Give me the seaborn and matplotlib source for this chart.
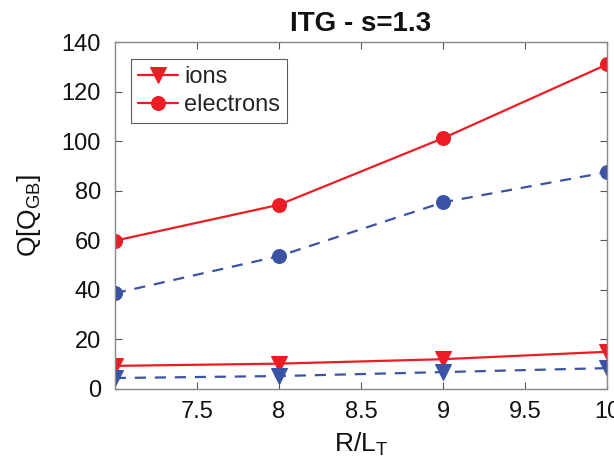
import matplotlib
matplotlib.use("Agg")
import matplotlib.pyplot as plt
import seaborn as sns
import pandas as pd

sns.set_theme(style="white")
plt.rcParams['font.family'] = ['Liberation Sans', 'DejaVu Sans']
plt.rcParams['mathtext.fontset'] = 'custom'
plt.rcParams['mathtext.rm'] = 'Liberation Sans'
plt.rcParams['mathtext.it'] = 'Liberation Sans'

r_lt = [7, 8, 9, 10]
ions_red = [9.3, 10.2, 12.0, 15.0]
electrons_red = [59.8, 74.3, 101.2, 131.0]
ions_blue = [4.4, 5.2, 6.8, 8.4]
electrons_blue = [38.6, 53.6, 75.3, 87.5]

RED = "#ED1C24"
BLUE = "#3A53A4"

fig = plt.figure(figsize=(6.14, 4.72), dpi=100)
ax = fig.add_axes([0.187, 0.176, 0.802, 0.735])

sns.lineplot(x=r_lt, y=ions_red, ax=ax, color=RED, marker="v", markersize=11,
             markeredgecolor=RED, linewidth=1.6, label="ions")
sns.lineplot(x=r_lt, y=electrons_red, ax=ax, color=RED, marker="o", markersize=10,
             markeredgecolor=RED, linewidth=1.6, label="electrons")
sns.lineplot(x=r_lt, y=ions_blue, ax=ax, color=BLUE, marker="v", markersize=11,
             markeredgecolor=BLUE, linewidth=1.6, linestyle=(0, (5, 4)))
sns.lineplot(x=r_lt, y=electrons_blue, ax=ax, color=BLUE, marker="o", markersize=10,
             markeredgecolor=BLUE, linewidth=1.6, linestyle=(0, (5, 4)))

ax.set_xlim(7, 10)
ax.set_ylim(0, 140)
ax.set_xticks([7.5, 8, 8.5, 9, 9.5, 10])
ax.set_xticklabels(["7.5", "8", "8.5", "9", "9.5", "10"])
ax.set_yticks([0, 20, 40, 60, 80, 100, 120, 140])
ax.tick_params(direction="in", length=5, width=0.8, color="#555555",
               labelsize=17, labelcolor="#111111", top=True, right=True,
               bottom=True, left=True)
ax.tick_params(axis="y", pad=10)
ax.tick_params(axis="x", pad=9)
for s in ax.spines.values():
    s.set_visible(True)
    s.set_color("#888888")
    s.set_linewidth(1.0)

ax.set_xlabel("R/L$_\\mathregular{T}$", fontsize=19, color="#111111", labelpad=5)
ax.set_ylabel("Q[Q$_\\mathregular{GB}$]", fontsize=19, color="#111111", labelpad=13)
ax.set_title("ITG - s=1.3", fontsize=20, fontweight="bold", color="#111111", pad=8)

leg = ax.legend(loc="upper left", fontsize=17, frameon=True, fancybox=False,
                edgecolor="#333333", handlelength=1.7, borderpad=0.3,
                labelspacing=0.25, handletextpad=0.25, borderaxespad=0,
                bbox_to_anchor=(0.0325, 0.951))
leg.get_frame().set_linewidth(0.8)

fig.savefig("out.png", dpi=100)
